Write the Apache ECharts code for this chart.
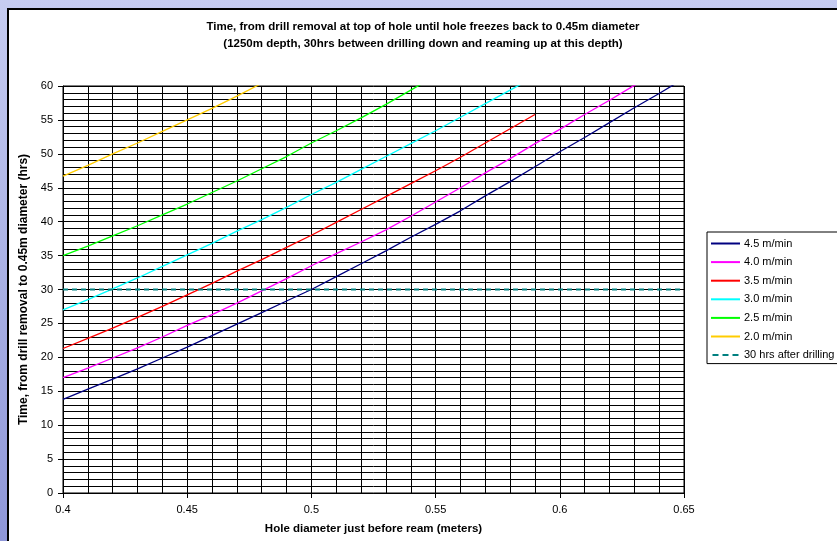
<!DOCTYPE html>
<html>
<head>
<meta charset="utf-8">
<script src="https://cdn.jsdelivr.net/npm/echarts@6/dist/echarts.min.js"></script>
<style>
    html, body {
        margin: 0;
        padding: 0;
        width: 837px;
        height: 541px;
        overflow: hidden;
        background: linear-gradient(to bottom, #c6ccf1, #8e96d8);
    }
    .frame {
        position: absolute;
        left: 7px;
        top: 8px;
        width: 900px;
        height: 600px;
        background: #fff;
        border: 2px solid #000;
    }
    #chart {
        position: absolute;
        left: 0;
        top: 0;
        width: 837px;
        height: 541px;
    }
</style>
</head>
<body>
<div class="frame"></div>
<div id="chart"></div>
<script>
    // hole diameter (m) just before ream
    var diameters = [0.40, 0.41, 0.42, 0.43, 0.44, 0.45, 0.46, 0.47, 0.48, 0.49,
        0.50, 0.51, 0.52, 0.53, 0.54, 0.55, 0.56, 0.57, 0.58, 0.59,
        0.60, 0.61, 0.62, 0.63, 0.64, 0.65];

    // hours until hole freezes back to 0.45m, per reaming speed
    var speed45 = [13.8, 15.3, 16.8, 18.3, 19.9, 21.5, 23.2, 24.9, 26.6, 28.3,
        30.0, 31.9, 33.8, 35.7, 37.7, 39.6, 41.6, 43.8, 45.9, 48.1,
        50.3, 52.4, 54.6, 56.8, 58.9, 61.1];
    var speed40 = [17.0, 18.4, 19.9, 21.4, 23.0, 24.7, 26.3, 28.0, 29.8, 31.6,
        33.5, 35.3, 37.0, 38.8, 40.8, 42.9, 45.0, 47.2, 49.3, 51.5,
        53.6, 55.8, 57.9, 60.1, 62.2];
    var speed35 = [21.3, 22.8, 24.3, 25.9, 27.5, 29.2, 30.9, 32.7, 34.4, 36.2,
        38.0, 39.9, 41.8, 43.7, 45.6, 47.5, 49.5, 51.6, 53.7, 55.8];
    var speed30 = [27.0, 28.5, 30.1, 31.7, 33.4, 35.1, 36.8, 38.6, 40.3, 42.1,
        44.0, 45.8, 47.7, 49.6, 51.5, 53.4, 55.4, 57.4, 59.4, 61.4];
    var speed25 = [35.0, 36.4, 37.9, 39.4, 41.0, 42.6, 44.3, 46.0, 47.8, 49.6,
        51.6, 53.4, 55.3, 57.3, 59.4, 61.5];
    var speed20 = [46.7, 48.3, 50.0, 51.6, 53.3, 55.0, 56.7, 58.5, 60.4];

    var limitHours = 30;

    var seriesNames = ['4.5 m/min', '4.0 m/min', '3.5 m/min', '3.0 m/min', '2.5 m/min', '2.0 m/min',
        '30 hrs after drilling'];
    var seriesColors = ['#000080', '#ff00ff', '#ff0000', '#00ffff', '#00ff00', '#ffcc00', '#008080'];

    function pairs(values) {
        return values.map(function (v, i) { return [diameters[i], v]; });
    }

    var speeds = [speed45, speed40, speed35, speed30, speed25, speed20];
    var series = speeds.map(function (vals, i) {
        return {
            name: seriesNames[i],
            type: 'line',
            symbol: 'none',
            data: pairs(vals),
            lineStyle: {color: seriesColors[i], width: 1.3},
            itemStyle: {color: seriesColors[i]},
            z: 3
        };
    });
    series.push({
        name: seriesNames[6],
        type: 'line',
        symbol: 'none',
        data: [[diameters[0], limitHours], [diameters[diameters.length - 1], limitHours]],
        lineStyle: {color: seriesColors[6], width: 2, type: [5, 4]},
        itemStyle: {color: seriesColors[6]},
        z: 4
    });

    // legend icons: plain line, dashed for the 30 hrs marker
    var legendData = seriesNames.map(function (n, i) {
        return {
            name: n,
            icon: i === 6 ? 'path://M0,0h6v2h-6z M10,0h6v2h-6z M20,0h6v2h-6z' : 'rect'
        };
    });

    var chart = echarts.init(document.getElementById('chart'));
    chart.setOption({
        animation: false,
        textStyle: {fontFamily: 'Liberation Sans, Arial, sans-serif'},
        title: {
            text: 'Time, from drill removal at top of hole until hole freezes back to 0.45m diameter\n(1250m depth, 30hrs between drilling down and reaming up at this depth)',
            left: 418,
            top: 13,
            textAlign: 'center',
            textStyle: {fontSize: 11.5, fontWeight: 'bold', color: '#000', lineHeight: 17}
        },
        legend: {
            orient: 'vertical',
            left: 707,
            top: 232,
            padding: [5, 200, 2, 4],
            itemWidth: 29,
            itemHeight: 2,
            itemGap: 5.6,
            borderColor: '#000',
            borderWidth: 1,
            backgroundColor: '#fff',
            textStyle: {fontSize: 11, color: '#000', lineHeight: 13, padding: [0, 0, 0, -1]},
            data: legendData
        },
        grid: {
            left: 63,
            top: 86,
            width: 621,
            height: 407,
            show: true,
            borderColor: '#000',
            borderWidth: 1
        },
        xAxis: {
            type: 'value',
            min: 0.4,
            max: 0.65,
            interval: 0.05,
            name: 'Hole diameter just before ream (meters)',
            nameLocation: 'middle',
            nameGap: 30,
            nameTextStyle: {fontSize: 11.5, fontWeight: 'bold', color: '#000'},
            axisLine: {lineStyle: {color: '#000'}},
            axisTick: {show: true, length: 5, lineStyle: {color: '#000'}},
            axisLabel: {
                fontSize: 11, color: '#000', margin: 11,
                formatter: function (v) { return String(+v.toFixed(2)); }
            },
            splitLine: {show: true, lineStyle: {color: '#000', width: 1}},
            minorTick: {show: false, splitNumber: 5},
            minorSplitLine: {show: true, lineStyle: {color: '#000', width: 1}}
        },
        yAxis: {
            type: 'value',
            min: 0,
            max: 60,
            interval: 5,
            name: 'Time, from drill removal to 0.45m diameter (hrs)',
            nameLocation: 'middle',
            nameGap: 28,
            nameTextStyle: {fontSize: 12, fontWeight: 'bold', color: '#000'},
            axisLine: {show: true, lineStyle: {color: '#000'}},
            axisTick: {show: true, length: 5, lineStyle: {color: '#000'}},
            axisLabel: {fontSize: 11, color: '#000', margin: 10},
            splitLine: {show: true, lineStyle: {color: '#000', width: 1}},
            minorTick: {show: false, splitNumber: 5},
            minorSplitLine: {show: true, lineStyle: {color: '#000', width: 1}}
        },
        series: series
    });
</script>
</body>
</html>
